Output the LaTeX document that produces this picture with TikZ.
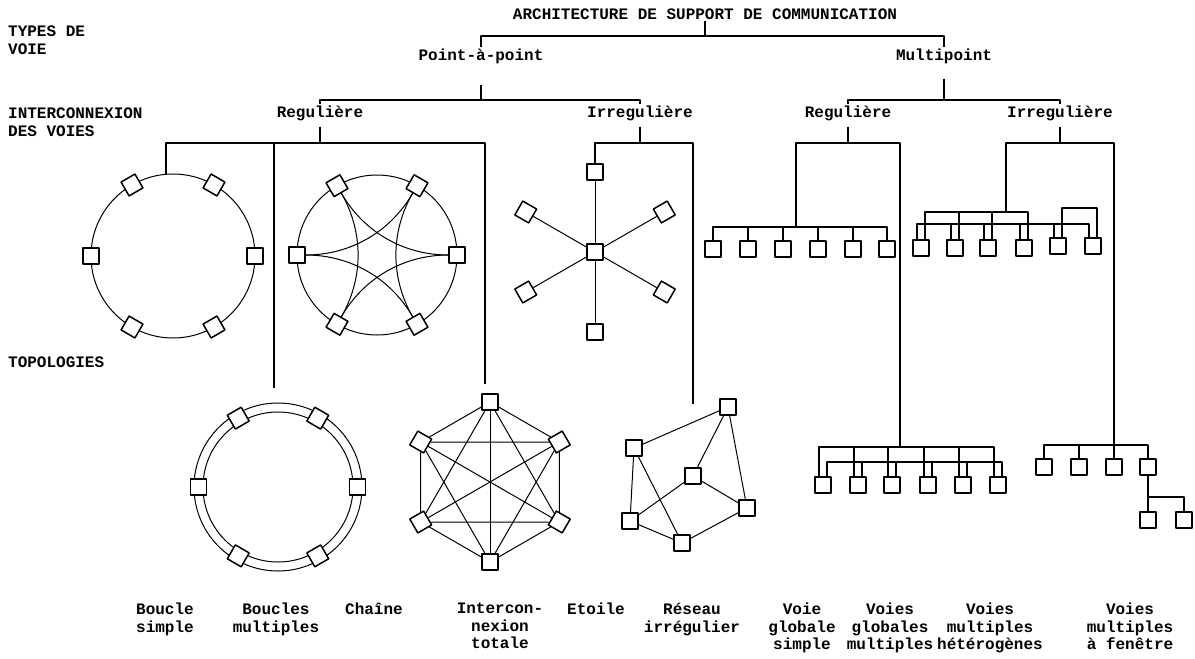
\documentclass[tikz,border=0pt]{standalone}
\usepackage{fontspec}
\newfontfamily\printfont{Liberation Mono}
\usetikzlibrary{positioning,calc}

\begin{document}
\begin{tikzpicture}
[x=1pt, y=-1pt, line join=round,
 every node/.style={font=\printfont\bfseries\fontsize{16}{17.5}\selectfont},
 txt/.style={inner sep=1pt},
 side/.style={anchor=west, align=left, inner sep=0pt},
 topo/.style={anchor=north, align=center, inner sep=0pt},
 box/.style={draw, fill=white, line width=1.5pt, minimum size=16pt, inner sep=0pt},
 tree/.style={line width=1.6pt},
 bus/.style={line width=1.4pt},
 link/.style={line width=1pt}
]
%\draw[help lines] (0,0) grid (1195,659);
\useasboundingbox (0,0) rectangle (1195,659);

\node[side] (tv) at (8,40) {TYPES DE\\VOIE};
\node[side] (iv) at (8,122) {INTERCONNEXION\\DES VOIES};
\node[side] (tp) at (8,362) {TOPOLOGIES};

\node[txt] (arch) at (705,14) {ARCHITECTURE DE SUPPORT DE COMMUNICATION};
\node[txt] (pp) at (481,56) {Point-à-point};
\node[txt] (mp) at (944,56) {Multipoint};
\node[txt] (ppr) at (320,113) {Regulière};
\node[txt] (ppi) at (640,113) {Irregulière};
\node[txt] (mpr) at (848,113) {Regulière};
\node[txt] (mpi) at (1060,113) {Irregulière};

\coordinate (archj) at (705,36);
\coordinate (ppj) at (481,100);
\coordinate (mpj) at (944,100);
\coordinate (pprj) at (320,143);
\coordinate (ppij) at (640,143);
\coordinate (mprj) at (848,143);
\coordinate (mpij) at (1060,143);

% boucle simple
\coordinate (bsc) at (173,256);
\coordinate (bsin) at (166,174);
\draw[link] (bsc) circle (82);
\foreach \a [count=\i] in {0,60,...,300}
  \node[box, rotate=-\a] (bs\i) at ($(bsc)+(\a:82)$) {};

% chaine
\coordinate (chc) at (377,255);
\draw[link] (chc) circle (80);
\foreach \a [count=\i] in {0,60,...,300}
  \node[box, rotate=-\a] (ch\i) at ($(chc)+(\a:80)$) {};
\foreach \i/\j in {1/3,2/4,3/5,4/6,5/1,6/2}
  \draw[link] (ch\i) .. controls ($(ch\i)!0.667!(chc)$) and ($(ch\j)!0.667!(chc)$) .. (ch\j);

% boucles multiples
\coordinate (bmc) at (278,487);
\coordinate (bmin) at (274,388);
\draw[link] (bmc) circle (75) (bmc) circle (84);
\foreach \a [count=\i] in {0,60,...,300}
  \node[box, rotate=-\a] (bm\i) at ($(bmc)+(\a:79.5)$) {};

% interconnexion totale
\coordinate (itc) at (490,482);
\coordinate (itin) at (485,384);
\foreach \a [count=\i] in {-90,-30,...,210}
  \node[box, rotate=-\a] (it\i) at ($(itc)+(\a:80)$) {};
\foreach \i in {1,...,5}{
  \pgfmathtruncatemacro\k{\i+1}
  \foreach \j in {\k,...,6}
    \draw[link] (it\i) -- (it\j);
}

% etoile
\node[box] (et0) at (595,252) {};
\foreach \a [count=\i] in {-90,-30,...,210}
  \node[box, rotate=-\a] (et\i) at ($(et0)+(\a:80)$) {};
\foreach \i in {1,...,6}
  \draw[link] (et0) -- (et\i);

% reseau irregulier
\node[box] (rs1) at (728,407) {};
\node[box] (rs2) at (634,448) {};
\node[box] (rs3) at (693,476) {};
\node[box] (rs4) at (747,508) {};
\node[box] (rs5) at (630,521) {};
\node[box] (rs6) at (682,543) {};
\coordinate (rsin) at (693,404);
\foreach \i/\j in {2/1,1/3,1/4,2/5,2/6,3/5,3/4,5/6,6/4}
  \draw[link] (rs\i) -- (rs\j);

% voie globale simple
\foreach \x [count=\i] in {713,748,783,818,853,887}
  \node[box] (vg\i) at (\x,249) {};
\coordinate (vgbus) at (796,227);
\foreach \i in {1,...,6}
  \draw[bus] (vg\i) |- (vgbus);

% voies globales multiples
\foreach \x [count=\i] in {823,858,892,928,963,998}
  \node[box] (gm\i) at (\x,485) {};
\coordinate (gmA) at (900,447);
\coordinate (gmB) at (910,462);
\foreach \i in {1,...,6}{
  \draw[bus] ($(gm\i.north)+(-4,0)$) |- (gmA);
  \draw[bus] ($(gm\i.north)+(4,0)$) |- (gmB);
}

% voies multiples heterogenes
\foreach \x/\y [count=\i] in {921/248,955/248,988/248,1024/248,1058/246,1093/246}
  \node[box] (ht\i) at (\x,\y) {};
\coordinate (htA) at (1006,212);
\coordinate (htB) at (1000,224);
\coordinate (htC) at (1080,208);
\foreach \i in {1,...,6}
  \draw[bus] ($(ht\i.north)+(-4,0)$) |- (htB);
\foreach \i in {1,...,4}
  \draw[bus] ($(ht\i.north)+(4,0)$) |- (htA);
\foreach \i in {5,6}
  \draw[bus] ($(ht\i.north)+(4,0)$) |- (htC);

% voies multiples a fenetre
\foreach \x [count=\i] in {1044,1079,1114,1148}
  \node[box] (wf\i) at (\x,467) {};
\node[box] (wf5) at (1148,520) {};
\node[box] (wf6) at (1184,520) {};
\coordinate (wfbus) at (1114,445);
\coordinate (wfsub) at (1148,497);
\foreach \i in {1,...,4}
  \draw[bus] (wf\i) |- (wfbus);
\draw[bus] (wf4) -- (wf5);
\draw[bus] (wf6) |- (wfsub);

% arbre
\draw[tree] (arch) -- (archj);
\draw[tree] (pp) |- (archj) -| (mp);
\draw[tree] ($(pp.south)+(0,20)$) -- (ppj);
\draw[tree] ($(mp.south)+(0,14)$) -- (mpj);
\draw[tree] (ppr) |- (ppj) -| (ppi);
\draw[tree] (mpr) |- (mpj) -| (mpi);
\draw[tree] ($(ppr.south)+(0,5)$) -- (pprj);
\draw[tree] ($(ppi.south)+(0,5)$) -- (ppij);
\draw[tree] ($(mpr.south)+(0,5)$) -- (mprj);
\draw[tree] ($(mpi.south)+(0,5)$) -- (mpij);
\draw[tree] (bsin) |- (pprj) -| (itin);
\draw[tree] (bmin) |- (pprj);
\draw[tree] (et1) |- (ppij) -| (rsin);
\draw[tree] (vgbus) |- (mprj) -| (gmA);
\draw[tree] (htA) |- (mpij) -| (wfbus);

\node[topo] (t1) at (165,603) {Boucle\\simple};
\node[topo] (t2) at (276,603) {Boucles\\multiples};
\node[topo] (t3) at (374,603) {Chaîne};
\node[topo] (t4) at (500,603) {Intercon-\\nexion\\totale};
\node[topo] (t5) at (596,603) {Etoile};
\node[topo] (t6) at (692,603) {Réseau\\irrégulier};
\node[topo] (t7) at (802,603) {Voie\\globale\\simple};
\node[topo] (t8) at (890,603) {Voies\\globales\\multiples};
\node[topo] (t9) at (990,603) {Voies\\multiples\\hétérogènes};
\node[topo] (t10) at (1130,603) {Voies\\multiples\\à fenêtre};
\end{tikzpicture}
\end{document}
